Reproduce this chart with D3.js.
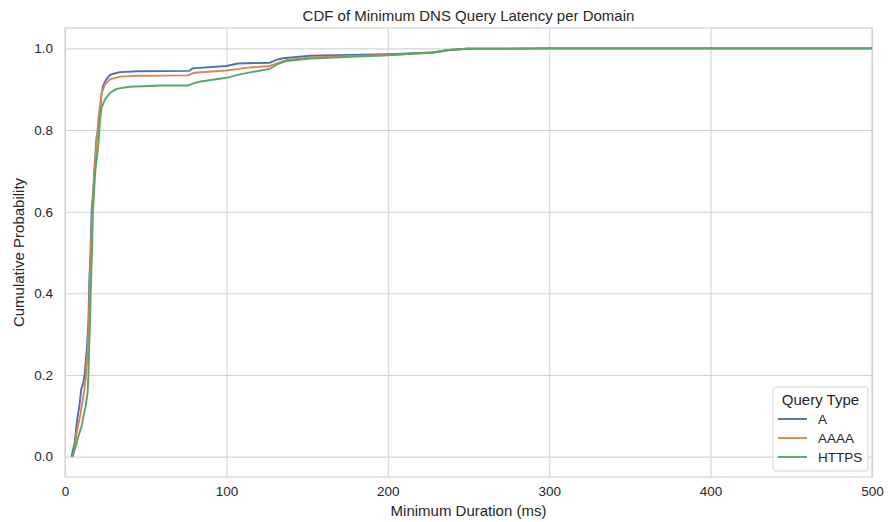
<!DOCTYPE html>
<html>
<head>
<meta charset="utf-8">
<script src="https://cdn.jsdelivr.net/npm/d3@7"></script>
<style>
  html, body { margin: 0; padding: 0; background: #fff; }
  svg { display: block; font-family: "Liberation Sans", Arial, sans-serif; }
</style>
</head>
<body>
<svg id="chart" width="888" height="522"></svg>
<script>
// ---- data ----
const seriesNames = ["A", "AAAA", "HTTPS"];
const seriesColors = ["#4c72b0", "#dd8452", "#55a868"];

// [duration ms, cumulative probability]
const cdfA = [
  [4, 0], [6, 0.034], [7.5, 0.09], [9, 0.127], [10, 0.164], [11.3, 0.18],
  [12.3, 0.205], [13, 0.238], [13.8, 0.28], [14.5, 0.33], [15, 0.426],
  [15.8, 0.5], [16.5, 0.605], [17.5, 0.65], [18.2, 0.70], [19.5, 0.78],
  [20.5, 0.80], [21.5, 0.834], [22.5, 0.883], [23.5, 0.907], [25, 0.92],
  [26, 0.926], [28, 0.935], [30, 0.938], [34, 0.942], [45, 0.944],
  [77, 0.945], [79, 0.951], [100, 0.957], [107, 0.963], [127, 0.965],
  [131, 0.972], [135, 0.976], [152, 0.982], [200, 0.986], [228, 0.99],
  [238, 0.996], [249, 0.999], [300, 1.0], [500, 1.0]
];
const cdfAAAA = [
  [5, 0], [6, 0.02], [7.2, 0.058], [9.3, 0.098], [10.7, 0.132], [12, 0.164],
  [13, 0.196], [14, 0.255], [14.8, 0.33], [15.3, 0.42], [16, 0.5],
  [16.8, 0.6], [18.3, 0.70], [19.8, 0.777], [20.6, 0.826], [21.7, 0.859],
  [22.7, 0.891], [24.8, 0.912], [27.9, 0.924], [34, 0.931], [45, 0.933],
  [76, 0.934], [79, 0.939], [82, 0.941], [100, 0.946], [108, 0.950],
  [113, 0.953], [127, 0.957], [133, 0.966], [137, 0.971], [152, 0.978],
  [200, 0.984], [228, 0.99], [238, 0.996], [249, 0.999], [300, 1.0], [500, 1.0]
];
const cdfHTTPS = [
  [4.5, 0], [6.6, 0.025], [8.3, 0.05], [10.3, 0.074], [11.4, 0.098],
  [12.8, 0.123], [14, 0.157], [14.5, 0.196], [15, 0.27], [15.5, 0.33],
  [16, 0.41], [16.7, 0.5], [17.3, 0.6], [18.8, 0.70], [20.6, 0.76],
  [21.7, 0.826], [22.7, 0.855], [24.8, 0.875], [27.9, 0.891], [32, 0.901],
  [40, 0.906], [60, 0.909], [76, 0.909], [80, 0.915], [84, 0.919],
  [100, 0.928], [107, 0.935], [113, 0.940], [127, 0.950], [131, 0.960],
  [137, 0.969], [152, 0.975], [200, 0.983], [228, 0.99], [238, 0.996],
  [249, 0.999], [300, 1.0], [500, 1.0]
];
const seriesData = [cdfA, cdfAAAA, cdfHTTPS];

const xTicks = [0, 100, 200, 300, 400, 500];
const yTicks = [0.0, 0.2, 0.4, 0.6, 0.8, 1.0];

const titleText = "CDF of Minimum DNS Query Latency per Domain";
const xLabel = "Minimum Duration (ms)";
const yLabel = "Cumulative Probability";
const legendTitle = "Query Type";

// ---- layout ----
const svg = d3.select("#chart");
const pL = 65, pR = 872, pT = 28, pB = 477;
const textColor = "#262626";
const gridColor = "#d4d4d4";

const x = d3.scaleLinear().domain([0, 500]).range([pL, pR]);
const y = d3.scaleLinear().domain([-0.05, 1.05]).range([pB, pT]);

// grid
const xAxis = d3.axisBottom(x).tickValues(xTicks).tickSize(-(pB - pT)).tickPadding(9)
  .tickFormat(d3.format("d"));
const yAxis = d3.axisLeft(y).tickValues(yTicks).tickSize(-(pR - pL)).tickPadding(12)
  .tickFormat(d3.format(".1f"));

const gx = svg.append("g").attr("transform", `translate(0,${pB})`).call(xAxis);
const gy = svg.append("g").attr("transform", `translate(${pL},0)`).call(yAxis);
[gx, gy].forEach(g => {
  g.select(".domain").remove();
  g.selectAll(".tick line").attr("stroke", gridColor).attr("stroke-width", 1.1);
  g.selectAll(".tick text").attr("fill", textColor).attr("font-size", 13.5)
    .attr("font-family", "Liberation Sans, Arial, sans-serif");
});

// frame
svg.append("rect").attr("x", pL).attr("y", pT)
  .attr("width", pR - pL).attr("height", pB - pT)
  .attr("fill", "none").attr("stroke", gridColor).attr("stroke-width", 1.3);

// lines
svg.append("clipPath").attr("id", "clip").append("rect")
  .attr("x", pL).attr("y", pT).attr("width", pR - pL).attr("height", pB - pT);

const line = d3.line().x(d => x(d[0])).y(d => y(d[1])).curve(d3.curveLinear);
const lg = svg.append("g").attr("clip-path", "url(#clip)");
seriesData.forEach((data, i) => {
  lg.append("path").datum(data)
    .attr("d", line)
    .attr("fill", "none")
    .attr("stroke", seriesColors[i])
    .attr("stroke-width", 1.9)
    .attr("stroke-linejoin", "round");
});

// title & labels
svg.append("text").attr("x", (pL + pR) / 2).attr("y", 21)
  .attr("text-anchor", "middle").attr("font-size", 15).attr("fill", textColor)
  .text(titleText);
svg.append("text").attr("x", (pL + pR) / 2).attr("y", 516)
  .attr("text-anchor", "middle").attr("font-size", 15).attr("fill", textColor)
  .text(xLabel);
svg.append("text").attr("transform", `translate(24,${(pT + pB) / 2}) rotate(-90)`)
  .attr("text-anchor", "middle").attr("font-size", 15).attr("fill", textColor)
  .text(yLabel);

// legend
const lgX = 773, lgY = 387, lgW = 95, lgH = 84;
const leg = svg.append("g");
leg.append("rect").attr("x", lgX).attr("y", lgY).attr("width", lgW).attr("height", lgH)
  .attr("rx", 3).attr("fill", "rgba(255,255,255,0.8)").attr("stroke", gridColor);
leg.append("text").attr("x", lgX + lgW / 2).attr("y", lgY + 18)
  .attr("text-anchor", "middle").attr("font-size", 15).attr("fill", textColor)
  .text(legendTitle);
seriesNames.forEach((name, i) => {
  const yy = lgY + 32 + i * 19;
  leg.append("line").attr("x1", lgX + 5).attr("x2", lgX + 34)
    .attr("y1", yy).attr("y2", yy)
    .attr("stroke", seriesColors[i]).attr("stroke-width", 1.9);
  leg.append("text").attr("x", lgX + 45).attr("y", yy + 5)
    .attr("font-size", 13.5).attr("fill", textColor).text(name);
});
</script>
</body>
</html>
